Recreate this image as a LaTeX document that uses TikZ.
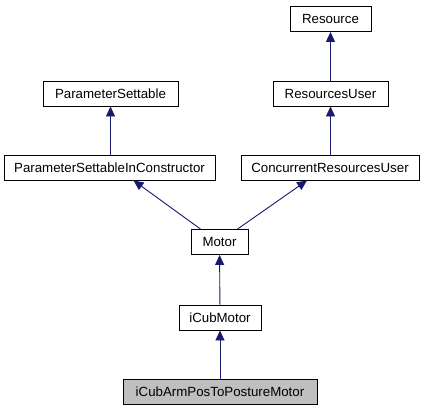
\documentclass[tikz,border=0pt]{standalone}
\usepackage{fontspec}
\setmainfont{Liberation Sans}
\usetikzlibrary{arrows.meta}
\definecolor{edgeblue}{RGB}{25,25,112}
\definecolor{hlgray}{RGB}{191,191,191}
\begin{document}
\begin{tikzpicture}[x=1bp,y=-1bp,
  cls/.style={draw=black,line width=0.9bp,fill=white,inner sep=0pt,minimum height=25bp,font=\fontsize{13.3bp}{15bp}\selectfont},
  inh/.style={draw=edgeblue,line width=0.9bp,-{Triangle[length=10bp,width=9bp,fill=edgeblue]}}]
\useasboundingbox (0,0) rectangle (425,411);
\node[cls,minimum width=81bp] (res) at (330.5,19) {Resource};
\node[cls,minimum width=135bp] (ps) at (110.5,93.5) {ParameterSettable};
\node[cls,minimum width=115bp] (ru) at (330.5,93.5) {ResourcesUser};
\node[cls,minimum width=211bp] (psic) at (109.5,167.5) {ParameterSettableInConstructor};
\node[cls,minimum width=178bp] (cru) at (330,167.5) {ConcurrentResourcesUser};
\node[cls,minimum width=57bp] (mot) at (219.5,242) {Motor};
\node[cls,minimum width=82bp] (icm) at (220,317.5) {iCubMotor};
\node[cls,minimum width=194bp,fill=hlgray] (arm) at (220,391.5) {iCubArmPosToPostureMotor};
\draw[inh] (ru) -- (res);
\draw[inh] (psic.north -| ps) -- (ps);
\draw[inh] (cru.north -| ru) -- (ru);
\draw[inh] ([xshift=-19bp]mot.north) -- ([xshift=24bp]psic.south);
\draw[inh] ([xshift=18bp]mot.north) -- ([xshift=-23bp]cru.south);
\draw[inh] (icm) -- (mot);
\draw[inh] (arm) -- (icm);
\end{tikzpicture}
\end{document}
